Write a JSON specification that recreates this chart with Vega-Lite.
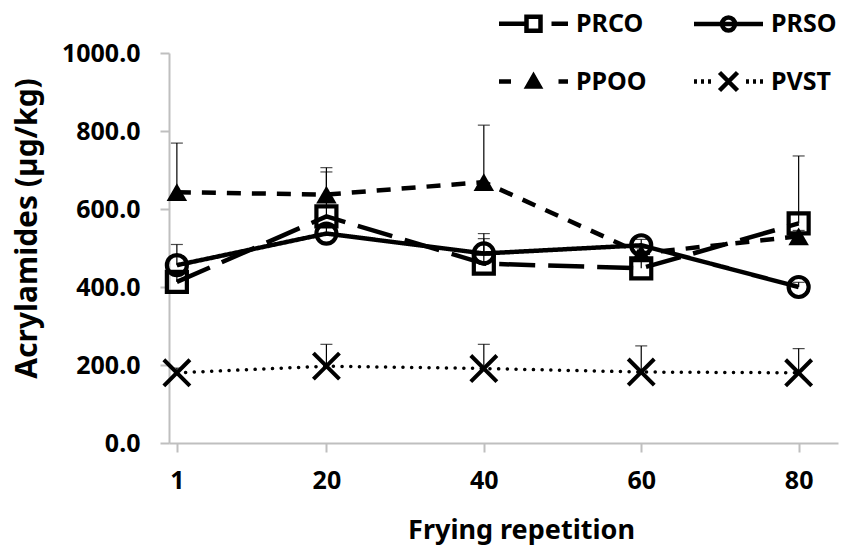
{
  "$schema": "https://vega.github.io/schema/vega-lite/v6.json",
  "width": 669,
  "height": 390,
  "autosize": {"type": "none"},
  "padding": {"left": 169, "top": 53, "right": 30, "bottom": 108},
  "background": "white",
  "config": {"view": {"stroke": null}, "font": "Noto Sans"},
  "data": {"values": [
    {"series": "PRCO", "rep": 1, "value": 413, "upper": 440},
    {"series": "PRCO", "rep": 20, "value": 581, "upper": 695},
    {"series": "PRCO", "rep": 40, "value": 460, "upper": 524},
    {"series": "PRCO", "rep": 60, "value": 448, "upper": 470},
    {"series": "PRCO", "rep": 80, "value": 563, "upper": 736},
    {"series": "PRSO", "rep": 1, "value": 456, "upper": 509},
    {"series": "PRSO", "rep": 20, "value": 537, "upper": 555},
    {"series": "PRSO", "rep": 40, "value": 486, "upper": 537},
    {"series": "PRSO", "rep": 60, "value": 507, "upper": 522},
    {"series": "PRSO", "rep": 80, "value": 400, "upper": 412},
    {"series": "PPOO", "rep": 1, "value": 643, "upper": 769},
    {"series": "PPOO", "rep": 20, "value": 637, "upper": 706},
    {"series": "PPOO", "rep": 40, "value": 669, "upper": 815},
    {"series": "PPOO", "rep": 60, "value": 486, "upper": 500},
    {"series": "PPOO", "rep": 80, "value": 530, "upper": 545},
    {"series": "PVST", "rep": 1, "value": 180, "upper": 192},
    {"series": "PVST", "rep": 20, "value": 197, "upper": 253},
    {"series": "PVST", "rep": 40, "value": 191, "upper": 253},
    {"series": "PVST", "rep": 60, "value": 182, "upper": 249},
    {"series": "PVST", "rep": 80, "value": 180, "upper": 242}
  ]},
  "encoding": {
    "x": {
      "field": "rep", "type": "quantitative",
      "scale": {"domain": [0, 85], "nice": false, "zero": false},
      "axis": {
        "values": [1, 20, 40, 60, 80],
        "grid": false,
        "title": "Frying repetition",
        "titleFont": "Noto Sans", "titleFontSize": 27, "titleFontWeight": "bold", "titleColor": "black",
        "titlePadding": 24, "titleX": 352,
        "labelFont": "Noto Sans", "labelFontSize": 25, "labelFontWeight": "bold", "labelColor": "black",
        "labelPadding": 16, "labelFlush": false,
        "tickSize": 9, "tickColor": "#bfbfbf", "tickWidth": 2,
        "domainColor": "#bfbfbf", "domainWidth": 2
      }
    },
    "y": {
      "field": "value", "type": "quantitative",
      "scale": {"domain": [0, 1000], "nice": false},
      "axis": {
        "values": [0, 200, 400, 600, 800, 1000],
        "format": ".1f",
        "grid": false,
        "title": "Acrylamides (µg/kg)",
        "titleFont": "Noto Sans", "titleFontSize": 30, "titleFontWeight": "bold", "titleColor": "black",
        "titleY": 175, "titlePadding": 19,
        "labelFont": "Noto Sans", "labelFontSize": 25, "labelFontWeight": "bold", "labelColor": "black",
        "labelPadding": 20, "labelFlush": false,
        "tickSize": 9, "tickColor": "#bfbfbf", "tickWidth": 2,
        "domainColor": "#bfbfbf", "domainWidth": 2
      }
    }
  },
  "layer": [
    {
      "mark": {"type": "rule", "color": "black", "strokeWidth": 1.2},
      "encoding": {"y2": {"field": "upper"}}
    },
    {
      "mark": {"type": "tick", "orient": "horizontal", "color": "black", "thickness": 1.2, "size": 12},
      "encoding": {"y": {"field": "upper", "type": "quantitative"}}
    },
    {
      "transform": [{"filter": "datum.series !== 'PVST'"}],
      "mark": {"type": "line", "color": "black"},
      "encoding": {
        "detail": {"field": "series"},
        "strokeDash": {
          "field": "series", "type": "nominal", "legend": null,
          "scale": {"domain": ["PRCO", "PRSO", "PPOO"], "range": [[36, 13], [1, 0], [14, 11]]}
        },
        "strokeWidth": {
          "field": "series", "type": "nominal", "legend": null,
          "scale": {"domain": ["PRCO", "PRSO", "PPOO"], "range": [4.5, 4.5, 3.5]}
        }
      }
    },
    {
      "transform": [{"filter": "datum.series === 'PVST'"}],
      "mark": {"type": "line", "color": "black", "strokeWidth": 3.5, "strokeCap": "round", "strokeDash": [0.1, 8.6]},
      "encoding": {}
    },
    {
      "transform": [{"filter": "datum.series === 'PRCO'"}],
      "mark": {"type": "point", "shape": "square", "filled": false, "color": "black", "strokeWidth": 4.2, "opacity": 1, "size": 400},
      "encoding": {}
    },
    {
      "transform": [{"filter": "datum.series === 'PRSO'"}],
      "mark": {"type": "point", "shape": "circle", "filled": false, "color": "black", "strokeWidth": 4.2, "opacity": 1, "size": 400},
      "encoding": {}
    },
    {
      "transform": [{"filter": "datum.series === 'PVST'"}],
      "mark": {"type": "point", "shape": "M-1,-1L1,1M1,-1L-1,1", "filled": false, "color": "black", "strokeWidth": 4, "opacity": 1, "size": 680},
      "encoding": {}
    },
    {
      "transform": [{"filter": "datum.series === 'PPOO'"}],
      "mark": {"type": "point", "shape": "triangle-up", "filled": true, "color": "black", "opacity": 1, "size": 420},
      "encoding": {}
    },
    {
      "transform": [{"filter": "false"}],
      "mark": {"type": "point", "filled": true, "stroke": "black", "strokeWidth": 4.5, "opacity": 1},
      "encoding": {
        "shape": {
          "field": "series", "type": "nominal",
          "scale": {"domain": ["PRCO", "PRSO", "PPOO", "PVST"], "range": [
            "M-3.45,0H-0.7M-0.7,-0.7H0.7V0.7H-0.7ZM1.8,0H3.45",
            "M-3.45,0H-0.65M0.65,0H3.45M-0.65,0H0.65M0.65,0A0.65,0.65,0,1,1,-0.65,0A0.65,0.65,0,1,1,0.65,0Z",
            "M-3.45,0H-2.25M-0.6,0.5L0,-0.55L0.6,0.5ZM2.5,0H3.45",
            "M-3.45,0h0.3M-2.75,0h0.3M-2.05,0h0.3M-0.9,-0.9L0.9,0.9M0.9,-0.9L-0.9,0.9M1.75,0h0.3M2.45,0h0.3M3.15,0h0.3"
          ]},
          "legend": {
            "title": null, "orient": "none", "legendX": 352, "legendY": -42,
            "columns": 2, "direction": "horizontal",
            "columnPadding": 38, "rowPadding": 23,
            "symbolSize": 400, "labelOffset": 30, "symbolOffset": 0,
            "symbolStrokeWidth": 4.5, "symbolStrokeColor": "black",
            "labelFont": "Noto Sans", "labelFontSize": 25, "labelFontWeight": "bold", "labelColor": "black"
          }
        },
        "fill": {
          "field": "series", "type": "nominal",
          "scale": {"domain": ["PRCO", "PRSO", "PPOO", "PVST"], "range": ["transparent", "transparent", "black", "transparent"]},
          "legend": {
            "title": null, "orient": "none", "legendX": 352, "legendY": -42,
            "columns": 2, "direction": "horizontal",
            "columnPadding": 38, "rowPadding": 23,
            "symbolSize": 400, "labelOffset": 30, "symbolOffset": 0,
            "symbolStrokeWidth": 4.5, "symbolStrokeColor": "black",
            "labelFont": "Noto Sans", "labelFontSize": 25, "labelFontWeight": "bold", "labelColor": "black"
          }
        },
        "stroke": {
          "field": "series", "type": "nominal",
          "scale": {"domain": ["PRCO", "PRSO", "PPOO", "PVST"], "range": ["black", "black", "black", "black"]},
          "legend": {
            "title": null, "orient": "none", "legendX": 352, "legendY": -42,
            "columns": 2, "direction": "horizontal",
            "columnPadding": 38, "rowPadding": 23,
            "symbolSize": 400, "labelOffset": 30, "symbolOffset": 0,
            "symbolStrokeWidth": 4.5, "symbolStrokeColor": "black",
            "labelFont": "Noto Sans", "labelFontSize": 25, "labelFontWeight": "bold", "labelColor": "black"
          }
        }
      }
    }
  ]
}
